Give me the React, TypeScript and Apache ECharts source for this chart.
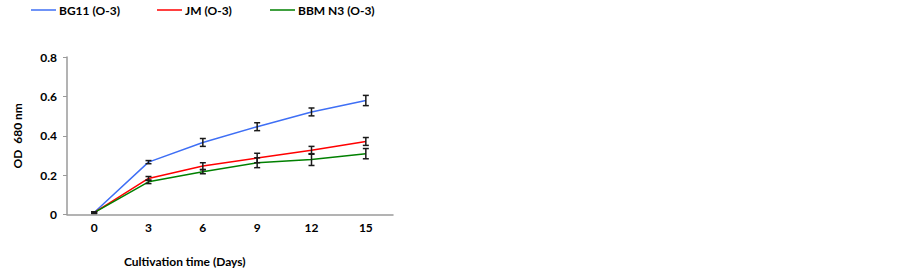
import React, { useEffect, useRef } from "react";
import * as echarts from "echarts";

const days = ["0", "3", "6", "9", "12", "15"];
const bg11 = [0.01, 0.266, 0.366, 0.446, 0.521, 0.579];
const bg11Err = [0.004, 0.008, 0.02, 0.02, 0.02, 0.026];
const jm = [0.01, 0.183, 0.246, 0.287, 0.326, 0.371];
const jmErr = [0.004, 0.01, 0.017, 0.024, 0.02, 0.02];
const bbm = [0.01, 0.166, 0.217, 0.263, 0.279, 0.309];
const bbmErr = [0.004, 0.009, 0.01, 0.025, 0.03, 0.026];

const seriesNames = ["BG11 (O-3)", "JM (O-3)", "BBM N3 (O-3)"];
const colors = ["#3F6FF5", "#FF0000", "#008000"];
const FONT = "'Lato', sans-serif";

function errData(vals: number[], errs: number[]) {
  return vals.map((v, i) => [i, v - errs[i], v + errs[i]]);
}

const errRender = (params: any, api: any) => {
  const x = api.value(0);
  const lo = api.coord([x, api.value(1)]);
  const hi = api.coord([x, api.value(2)]);
  const hw = 3;
  const style = { stroke: "#1a1a1a", lineWidth: 1.5, fill: "none" };
  return {
    type: "group",
    children: [
      { type: "line", shape: { x1: lo[0], y1: lo[1], x2: hi[0], y2: hi[1] }, style },
      { type: "line", shape: { x1: lo[0] - hw, y1: lo[1], x2: lo[0] + hw, y2: lo[1] }, style },
      { type: "line", shape: { x1: hi[0] - hw, y1: hi[1], x2: hi[0] + hw, y2: hi[1] }, style },
    ],
  };
};

export default function App() {
  const ref = useRef<HTMLDivElement>(null);
  useEffect(() => {
    if (!ref.current) return;
    const chart = echarts.init(ref.current, undefined, { renderer: "svg" });
    const values = [bg11, jm, bbm];
    const errs = [bg11Err, jmErr, bbmErr];
    const legendLefts = [31, 157, 270];
    chart.setOption({
      animation: false,
      backgroundColor: "#ffffff",
      legend: seriesNames.map((n, i) => ({
        data: [n],
        left: legendLefts[i],
        top: 4,
        padding: 0,
        icon: "rect",
        itemWidth: 25,
        itemHeight: 1.5,
        itemGap: 0,
        textStyle: { fontFamily: FONT, fontWeight: "bold", fontSize: 12, color: "#000", padding: [0, 0, 0, -2] },
      })),
      grid: { left: 67, right: 509, top: 57, bottom: 57.5 },
      xAxis: {
        type: "category",
        data: days,
        boundaryGap: true,
        axisLine: { lineStyle: { color: "#9a9a9a", width: 1.5 } },
        axisTick: { show: false },
        axisLabel: { fontFamily: FONT, fontWeight: "bold", fontSize: 12, color: "#000", margin: 7 },
      },
      yAxis: {
        type: "value",
        min: 0,
        max: 0.8,
        interval: 0.2,
        name: "OD  680 nm",
        nameLocation: "middle",
        nameGap: 44,
        nameTextStyle: { fontFamily: FONT, fontWeight: "bold", fontSize: 12, color: "#000" },
        splitLine: { show: false },
        axisLine: { show: true, lineStyle: { color: "#9a9a9a", width: 1.5 } },
        axisTick: { show: true, length: 4, lineStyle: { color: "#9a9a9a" } },
        axisLabel: { fontFamily: FONT, fontWeight: "bold", fontSize: 12, color: "#000", margin: 10 },
      },
      graphic: [
        {
          type: "text",
          left: 124,
          top: 255,
          style: { text: "Cultivation time (Days)", font: `bold 12px ${FONT}`, fill: "#000" },
        },
      ],
      series: [
        ...seriesNames.map((n, i) => ({
          name: n,
          type: "line",
          data: values[i],
          showSymbol: false,
          symbol: "none",
          lineStyle: { color: colors[i], width: 1.5 },
          itemStyle: { color: colors[i] },
          z: 2,
        })),
        ...seriesNames.map((n, i) => ({
          name: n + " err",
          type: "custom",
          renderItem: errRender,
          data: errData(values[i], errs[i]),
          z: 3,
          silent: true,
        })),
      ],
    });
    return () => chart.dispose();
  }, []);
  return <div ref={ref} style={{ width: 902, height: 272, position: "absolute", left: 0, top: 0 }} />;
}
